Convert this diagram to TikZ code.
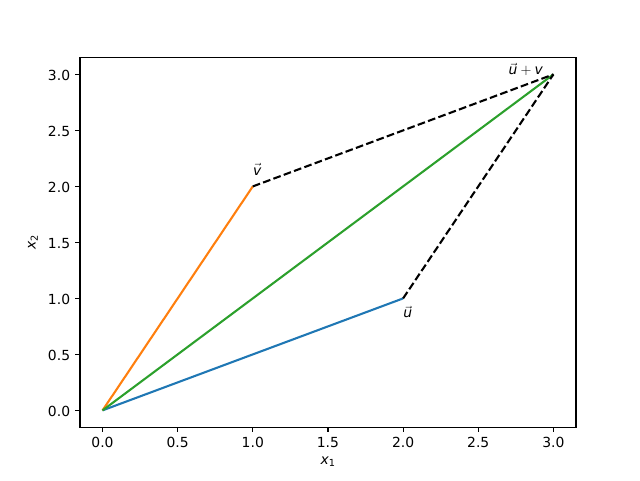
\documentclass[tikz,border=0pt]{standalone}
\usepackage{amsmath}
\usepackage{fontspec}
\setmainfont{DejaVu Sans}
\definecolor{czero}{HTML}{1F77B4}
\definecolor{cone}{HTML}{FF7F0E}
\definecolor{ctwo}{HTML}{2CA02C}
\tikzset{
  vecline/.style={line width=2.08pt},
  dashline/.style={line width=2.08pt, dash pattern=on 7.7pt off 3.3pt, black},
  tick/.style={line width=1.1pt},
  ticklbl/.style={font=\fontsize{13.9}{16}\selectfont, inner sep=0pt},
  ptlbl/.style={font=\fontsize{13.9}{16}\selectfont, inner sep=0pt, anchor=base west},
}
\begin{document}
\begin{tikzpicture}[x=1pt,y=-1pt]
\useasboundingbox (0,0) rectangle (640,480);
% axes frame
\draw[line width=1.1pt] (80,57.6) rectangle (576,427.2);
% x ticks
\foreach \v/\l in {0/0.0,0.5/0.5,1/1.0,1.5/1.5,2/2.0,2.5/2.5,3/3.0}{
  \pgfmathsetmacro{\px}{102.5+150.3*\v}
  \draw[tick] (\px,427.2) -- (\px,432.1);
  \node[ticklbl, anchor=north] (xt\l) at (\px,437) {\l};
}
% y ticks
\foreach \v/\l in {0/0.0,0.5/0.5,1/1.0,1.5/1.5,2/2.0,2.5/2.5,3/3.0}{
  \pgfmathsetmacro{\py}{410.4-112*\v}
  \draw[tick] (80,\py) -- (75.1,\py);
  \node[ticklbl, anchor=east] (yt\l) at (70.3,\py+0.8) {\l};
}
% axis labels
\node[ticklbl, anchor=north] (xlab) at (328,456.5) {\itshape x$_{\text{\upshape 1}}$};
\node[ticklbl, rotate=90] (ylab) at (33,242.4) {\itshape x$_{\text{\upshape 2}}$};
% data
\begin{scope}[shift={(102.5,410.4)}, x=150.3pt, y=112pt]
  \coordinate (O) at (0,0);
  \coordinate (U) at (2,1);
  \coordinate (V) at (1,2);
  \coordinate (W) at (3,3);
  \draw[vecline, czero] (O) -- (U);
  \draw[vecline, cone] (O) -- (V);
  \draw[vecline, ctwo] (O) -- (W);
  \draw[dashline] (V) -- (W);
  \draw[dashline] (U) -- (W);
  \node[ptlbl] (lu) at (2,0.83) {$\vec{\text{\itshape u}}$};
  \node[ptlbl] (lv) at (1,2.1) {$\vec{\text{\itshape v}}$};
  \node[ptlbl] (luv) at (2.7,3.0) {$\vec{\text{\itshape u}}+\text{\itshape v}$};
\end{scope}
\end{tikzpicture}
\end{document}
